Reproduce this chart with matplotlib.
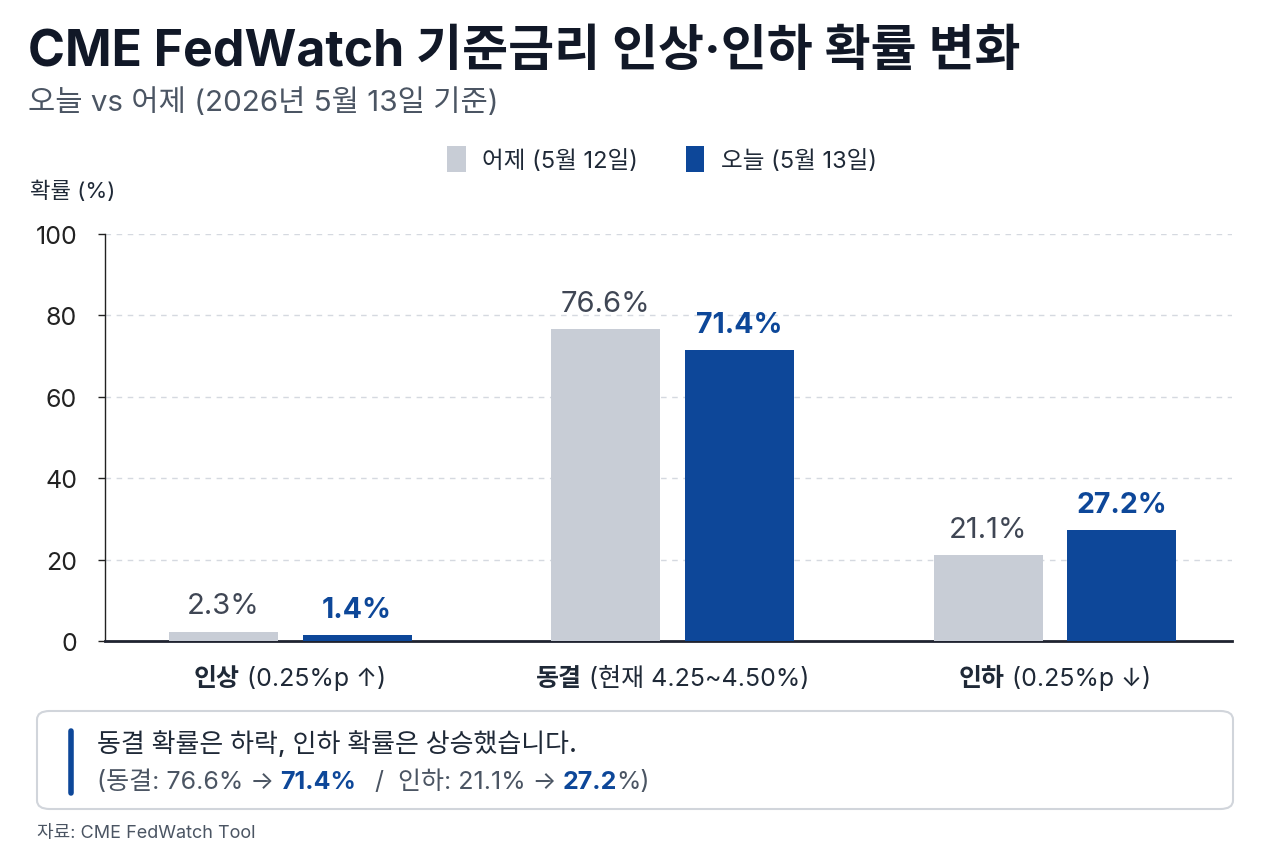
import matplotlib
matplotlib.use("Agg")
import matplotlib.pyplot as plt
import numpy as np
from matplotlib.patches import FancyBboxPatch

plt.rcParams['font.family'] = ['Inter', 'Noto Sans CJK KR', 'DejaVu Sans']

# data
categories = ["인상", "동결", "인하"]
category_notes = ["(0.25%p ↑)", "(현재 4.25~4.50%)", "(0.25%p ↓)"]
yesterday = [2.3, 76.6, 21.1]
today = [1.4, 71.4, 27.2]
series_names = ["어제 (5월 12일)", "오늘 (5월 13일)"]
yticks = [0, 20, 40, 60, 80, 100]

GRAY = "#c8cdd6"
BLUE = "#0d4799"
DARK = "#111827"
TEXT = "#1f2937"
MUTED = "#4b5563"

W, H = 1280, 853
fig = plt.figure(figsize=(W / 100, H / 100), dpi=100)
fig.patch.set_facecolor("white")
ax = fig.add_axes([105 / W, 1 - 642 / H, (1232 - 105) / W, (642 - 235) / H])

x = np.arange(len(categories))
bw = 0.285
b1 = ax.bar(x - 0.175, yesterday, bw, color=GRAY, label=series_names[0], zorder=3)
b2 = ax.bar(x + 0.175, today, bw, color=BLUE, label=series_names[1], zorder=3)

for rect, v in zip(b1, yesterday):
    ax.annotate(f"{v}%", (rect.get_x() + rect.get_width() / 2, v), xytext=(0, 9),
                textcoords="offset points", ha="center", va="bottom",
                fontsize=21, color="#3f4654")
for rect, v in zip(b2, today):
    ax.annotate(f"{v}%", (rect.get_x() + rect.get_width() / 2, v), xytext=(0, 9),
                textcoords="offset points", ha="center", va="bottom",
                fontsize=20.5, color=BLUE, fontweight="bold")

ax.set_xlim(-0.484, 2.463)
ax.set_ylim(0, 100)
ax.set_yticks(yticks)
ax.set_xticks([])
ax.tick_params(axis="y", labelsize=18, colors="#222222", length=5, width=1, pad=15)
ax.yaxis.grid(True, linestyle=(0, (4, 4)), color="#d5d9e0", linewidth=1, zorder=0)
for s in ["top", "right"]:
    ax.spines[s].set_visible(False)
ax.spines["left"].set_color("#222222")
ax.spines["left"].set_linewidth(1)
ax.spines["bottom"].set_color("#1f2330")
ax.spines["bottom"].set_linewidth(2)

renderer = fig.canvas.get_renderer()


def rich_line(px, py, parts, ha="left"):
    # parts: list of (text, props, gap after); px, py in pixels from top-left
    items = []
    for s, props, _ in parts:
        t = fig.text(0, 1 - py / H, s, va="baseline", **props)
        items.append(t)
    widths = [t.get_window_extent(renderer).width for t in items]
    gaps = [g for _, _, g in parts]
    total = sum(widths) + sum(gaps[:-1])
    start = px - total / 2 if ha == "center" else px
    for t, w, g in zip(items, widths, gaps):
        t.set_x(start / W)
        start += w + g
    return items


# x category labels (bold name + note)
ax_left_px = 105
ax_w_px = 1232 - 105
for i, (c, n) in enumerate(zip(categories, category_notes)):
    cx = ax_left_px + (x[i] - (-0.484)) / (2.463 + 0.484) * ax_w_px
    rich_line(cx, 686, [(c, dict(fontsize=18, fontweight="bold", color=TEXT), 7),
                        (n, dict(fontsize=18, color=TEXT), 0)], ha="center")

# title / subtitle
fig.text(28 / W, 1 - 66 / H, "CME FedWatch 기준금리 인상·인하 확률 변화",
         fontsize=36, fontweight="bold", color=DARK, va="baseline")
fig.text(28 / W, 1 - 111 / H, "오늘 vs 어제 (2026년 5월 13일 기준)",
         fontsize=21.3, color=MUTED, va="baseline")

# legend
fig.legend(handles=[b1, b2], labels=series_names, loc="center", bbox_to_anchor=(662 / W, 1 - 160 / H),
           ncol=2, frameon=False, fontsize=17, handlelength=0.8, handleheight=1.3,
           handletextpad=0.7, columnspacing=2.0, labelcolor=TEXT)

fig.text(30 / W, 1 - 198 / H, "확률 (%)", fontsize=16, color=TEXT, va="baseline")

# note box
box = FancyBboxPatch((37 / W, 1 - 810 / H), (1233 - 37) / W, (810 - 712) / H,
                     boxstyle="round,pad=0,rounding_size=0.01", transform=fig.transFigure,
                     facecolor="white", edgecolor="#d1d5db", linewidth=1.5)
fig.patches.append(box)
fig.add_artist(plt.Line2D([71 / W, 71 / W], [1 - 732 / H, 1 - 794 / H], transform=fig.transFigure,
                          color=BLUE, linewidth=4, solid_capstyle="round"))
fig.text(97 / W, 1 - 752 / H, "동결 확률은 하락, 인하 확률은 상승했습니다.",
         fontsize=18.7, color=TEXT, va="baseline", fontweight="medium")
rich_line(97, 789, [
    (f"(동결: {yesterday[1]}% →", dict(fontsize=18, color=MUTED), 6),
    (f"{today[1]}%", dict(fontsize=18, color=BLUE, fontweight="bold"), 5),
    (f"  /  인하: {yesterday[2]}% →", dict(fontsize=18, color=MUTED), 6),
    (f"{today[2]}", dict(fontsize=18, color=BLUE, fontweight="bold"), -1),
    ("%)", dict(fontsize=18, color=MUTED), 0),
])

fig.text(37 / W, 1 - 838 / H, "자료: CME FedWatch Tool", fontsize=13, color=MUTED, va="baseline")

fig.savefig("out.png", dpi=100, facecolor="white")
